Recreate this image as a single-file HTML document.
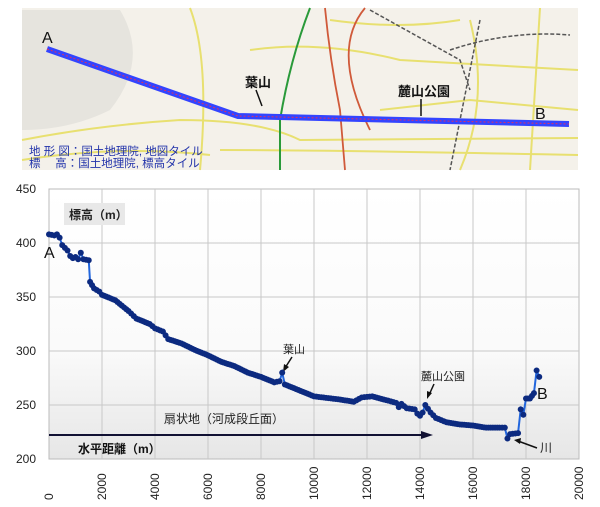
<!DOCTYPE html>
<html><head><meta charset="utf-8"><style>
body{margin:0;background:#fff;width:600px;height:507px;overflow:hidden;font-family:"Liberation Sans","Noto Sans CJK JP",sans-serif}
</style></head><body>
<svg id="s" width="600" height="507" xmlns="http://www.w3.org/2000/svg" style="position:absolute;left:0;top:0">
<defs>
<linearGradient id="g" x1="0" y1="0" x2="0" y2="1"><stop offset="0" stop-color="#ffffff"/><stop offset="0.6" stop-color="#fafafa"/><stop offset="1" stop-color="#e6e6e6"/></linearGradient>
</defs>
<rect x="22" y="8" width="556" height="162" fill="#f4f1ea"/>
<path d="M22 10 L120 10 Q150 60 110 110 Q70 130 22 130 Z" fill="#e6e4de"/>
<g fill="none" stroke="#e8e070" stroke-width="2">
<path d="M22 140 Q100 125 180 120 Q260 120 300 140 L578 138"/>
<path d="M190 8 Q210 60 200 170"/>
<path d="M250 50 Q320 40 400 60 L578 70"/>
<path d="M380 110 L470 100 L578 110"/>
<path d="M470 20 Q490 100 460 170"/>
<path d="M220 150 Q330 150 578 155"/>
<path d="M540 8 L530 170"/>
<path d="M22 160 Q120 145 210 155"/>
<path d="M330 20 Q400 30 460 20"/>
</g>
<path d="M310 8 Q290 60 280 120 L280 170" fill="none" stroke="#2a9a3a" stroke-width="2"/>
<path d="M325 8 Q330 60 340 110 L345 170 M365 8 Q330 50 370 130" fill="none" stroke="#d05a3a" stroke-width="1.8"/>
<path d="M370 10 L460 60 L470 90 M480 20 L450 170 M450 50 Q510 30 570 35" fill="none" stroke="#555" stroke-width="1.5" stroke-dasharray="4 2"/>
<polyline points="47,49 238,116 569,124" fill="none" stroke="#3344ff" stroke-width="6"/>
<polyline points="47,49 238,116 569,124" fill="none" stroke="#e03060" stroke-width="1" stroke-dasharray="2 2"/>
<text x="42" y="43" font-size="16" fill="#111">A</text>
<text x="535" y="119" font-size="16" fill="#111">B</text>
<text x="245" y="87" font-size="13" fill="#111" font-weight="bold">葉山</text>
<path d="M256 90 L262 106" stroke="#111" stroke-width="1.5"/>
<text x="398" y="96" font-size="13" fill="#111" font-weight="bold">麓山公園</text>
<path d="M421 99 L421 116" stroke="#111" stroke-width="1.5"/>
<text x="29" y="155" font-size="11.5" fill="#2233aa">地 形 図：国土地理院, 地図タイル</text>
<text x="29" y="167" font-size="11.5" fill="#2233aa">標　  高：国土地理院, 標高タイル</text>
<rect x="49" y="189" width="530" height="270" fill="url(#g)" stroke="#bbb"/>
<g id="grid" stroke="#c8c8c8" stroke-width="1"></g>
<g id="lab" font-size="12" fill="#222"></g>
<rect x="64" y="203" width="61" height="22" fill="#e8e8e8"/>
<text x="69" y="219" font-size="12" fill="#222" font-weight="bold">標高（m）</text>
<text x="164" y="423" font-size="12" fill="#222">扇状地（河成段丘面）</text>
<line x1="49" y1="435" x2="425" y2="435" stroke="#111133" stroke-width="2"/>
<path d="M433 435 L421 431 L421 439 Z" fill="#111133"/>
<text x="78" y="453" font-size="12" fill="#111" font-weight="bold">水平距離（m）</text>
<text x="44" y="258" font-size="16" fill="#111">A</text>
<text x="537" y="399" font-size="16" fill="#111">B</text>
<text x="283" y="353" font-size="11" fill="#222">葉山</text>
<path d="M292 357 L285 368" stroke="#111" stroke-width="1.5"/><path d="M283 372 L284 364 L289 367 Z" fill="#111"/>
<text x="421" y="380" font-size="11" fill="#222">麓山公園</text>
<path d="M434 384 L429 395" stroke="#111" stroke-width="1.5"/><path d="M427 399 L427 391 L432 393 Z" fill="#111"/>
<text x="540" y="452" font-size="12" fill="#222">川</text>
<path d="M537 448 L518 441" stroke="#111" stroke-width="1.5"/><path d="M514 440 L521 438 L520 444 Z" fill="#111"/>
<polyline id="ln" fill="none" stroke="#2266dd" stroke-width="2"/>
<g id="pts" fill="#0c2a80"></g>
</svg>
<script>
var X=function(d){return 49+d*0.0265},Y=function(v){return 459-(v-200)*1.08};
var ns="http://www.w3.org/2000/svg",g=document.getElementById('grid'),lab=document.getElementById('lab');
function el(p,t,a){var e=document.createElementNS(ns,t);for(var k in a)e.setAttribute(k,a[k]);p.appendChild(e);return e;}
for(var i=1;i<10;i++){var x=X(i*2000);el(g,'line',{x1:x,y1:189,x2:x,y2:459});}
for(var v=250;v<450;v+=50){el(g,'line',{x1:49,y1:Y(v),x2:579,y2:Y(v)});}
for(var v=200;v<=450;v+=50){el(lab,'text',{x:16,y:Y(v)+4}).textContent=v;}
for(var i=0;i<=10;i++){var x=X(i*2000)+4;var t=el(lab,'text',{x:0,y:0,transform:'translate('+x+',500) rotate(-90)'});t.textContent=i*2000;}
var k=[[0,408],[200,407],[300,408],[400,405],[500,398],[700,393],[800,388],[900,386],[1000,387],[1100,385],[1200,391],[1300,385],[1500,384],[1550,364],[1700,358],[1900,355],[2000,352],[2500,347],[3000,337],[3300,330],[3800,325],[4000,321],[4300,318],[4500,311],[5000,307],[5500,301],[6000,296],[6500,290],[7000,286],[7500,280],[8000,276],[8500,271],[8700,272],[8800,280],[8900,269],[9500,263],[10000,258],[11000,255],[11500,253],[11800,257],[12200,258],[12800,254],[13100,252],[13200,248],[13300,251],[13500,247],[13800,246],[13900,242],[14000,240],[14100,243],[14200,250],[14400,243],[14600,238],[15000,234],[15500,232],[16000,231],[16500,229],[17000,229],[17200,229],[17300,219],[17400,223],[17700,224],[17800,246],[17900,241],[18000,256],[18150,256],[18300,261],[18400,282],[18500,276]];
var pts=[];for(var i=0;i<k.length-1;i++){var a=k[i],b=k[i+1],n=Math.max(1,Math.round((b[0]-a[0])/90));if(Math.abs(b[1]-a[1])>15)n=1;for(var j=0;j<n;j++){pts.push([a[0]+(b[0]-a[0])*j/n,a[1]+(b[1]-a[1])*j/n]);}}
pts.push(k[k.length-1]);
var s='',P=document.getElementById('pts');pts.forEach(function(p){s+=X(p[0])+','+Y(p[1])+' ';el(P,'circle',{cx:X(p[0]),cy:Y(p[1]),r:3});});
document.getElementById('ln').setAttribute('points',s);
</script>
</body></html>
